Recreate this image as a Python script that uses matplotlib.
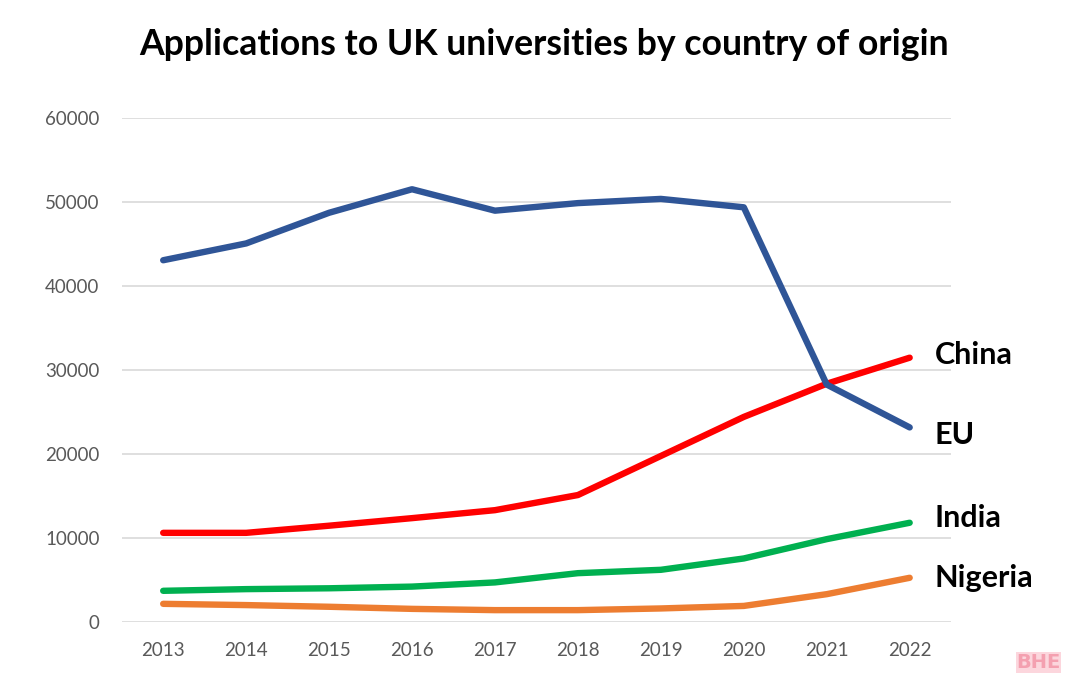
import matplotlib
matplotlib.use('Agg')
import matplotlib.pyplot as plt
import numpy as np

# data
years = ['2013', '2014', '2015', '2016', '2017', '2018', '2019', '2020', '2021', '2022']
eu = [43100, 45100, 48750, 51550, 49000, 49900, 50400, 49400, 28300, 23200]
china = [10650, 10650, 11500, 12400, 13350, 15150, 19800, 24450, 28400, 31500]
india = [3750, 3950, 4050, 4250, 4750, 5850, 6250, 7600, 9900, 11850]
nigeria = [2200, 2050, 1850, 1600, 1450, 1450, 1650, 1950, 3350, 5300]

series = [('EU', eu, '#2F5597'), ('China', china, '#FF0000'),
          ('India', india, '#00B050'), ('Nigeria', nigeria, '#ED7D31')]

plt.rcParams['font.family'] = ['Lato', 'DejaVu Sans']

fig = plt.figure(figsize=(10.8, 6.9), dpi=100)
ax = fig.add_axes([0.1127, 0.0981, 0.768, 0.7305])

x = np.arange(len(years))
# draw order: nigeria, india, china, eu on top
for name, vals, col in [series[3], series[2], series[1], series[0]]:
    ax.plot(x, vals, color=col, lw=4.6, solid_capstyle='round', solid_joinstyle='round')

# labels at the end of each line
label_y = {'EU': 22650, 'China': 32060, 'India': 12770, 'Nigeria': 5630}
for name, vals, col in series:
    ax.text(x[-1] + 0.3, label_y[name], name, fontsize=22, color='black',
            va='center_baseline', ha='left', fontweight='bold')

ax.set_xlim(-0.5, 9.5)
ax.set_ylim(0, 60000)
ax.set_xticks(x)
ax.set_xticklabels(years)
ax.set_yticks(np.arange(0, 60001, 10000))
ax.yaxis.grid(True, color='#D9D9D9', lw=1.2)
ax.set_axisbelow(True)
for s in ax.spines.values():
    s.set_visible(False)
ax.tick_params(axis='both', length=0, labelsize=13.5, colors='#595959')
ax.tick_params(axis='y', pad=16)
ax.tick_params(axis='x', pad=14)

fig.text(0.504, 0.935, 'Applications to UK universities by country of origin',
         ha='center', va='center', fontsize=25.7, fontweight='bold', color='black')

# watermark
fig.text(0.982, 0.04, 'BHE', ha='right', va='center', fontsize=14,
         fontweight='bold', color='#F4A0B0', family='DejaVu Sans',
         bbox=dict(facecolor='#FCD6DD', edgecolor='none', pad=0.5))

fig.savefig('out.png', dpi=100)
